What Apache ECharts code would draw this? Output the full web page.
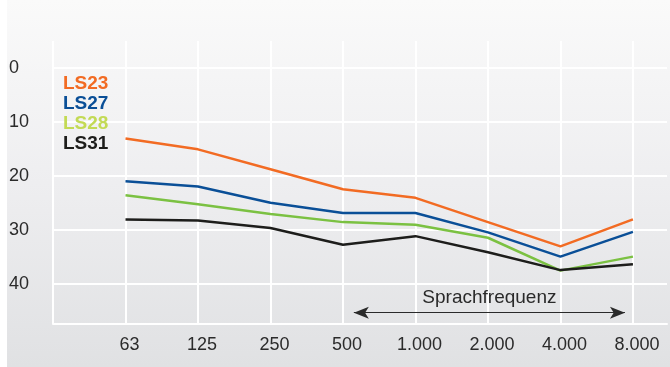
<!DOCTYPE html>
<html>
<head>
<meta charset="utf-8">
<script src="https://cdn.jsdelivr.net/npm/echarts@6/dist/echarts.min.js"></script>
<style>
    html, body { margin: 0; padding: 0; background: #fff; }
    #chart { width: 670px; height: 367px; }
</style>
</head>
<body>
<div id="chart"></div>
<script>
var myChart = echarts.init(document.getElementById('chart'));

// frequency bands (x axis)
var categories = ['63', '125', '250', '500', '1.000', '2.000', '4.000', '8.000'];
// y axis labels
var yTicks = [0, 10, 20, 30, 40];

var names = ['LS23', 'LS27', 'LS28', 'LS31'];
var ls23 = [13.1, 15.1, 18.8, 22.5, 24.1, 28.6, 33.1, 28.1];
var ls27 = [21.0, 22.0, 25.0, 26.9, 26.9, 30.5, 35.0, 30.4];
var ls28 = [23.6, 25.3, 27.1, 28.6, 29.1, 31.5, 37.6, 35.0];
var ls31 = [28.1, 28.3, 29.7, 32.8, 31.2, 34.2, 37.5, 36.4];

// speech frequency arrow: from/to in category index units, and its level
var speechRange = [3.15, 6.89];
var speechLevel = 45.4;

var lineColors = ['#f26b23', '#0a4f97', '#7bc142', '#1d1d1b'];
var legendColors = ['#f26b23', '#0a4f97', '#c3da55', '#1d1d1b'];
var font = '"Liberation Sans", Arial, sans-serif';

function toPoints(values) {
    return values.map(function (v, i) { return [i, v]; });
}

var allValues = [ls23, ls27, ls28, ls31];

var series = names.map(function (name, k) {
    return {
        name: name,
        type: 'line',
        symbol: 'none',
        lineStyle: { width: 2.5, color: lineColors[k] },
        itemStyle: { color: lineColors[k] },
        data: toPoints(allValues[k])
    };
});

series[3].markLine = {
    silent: true,
    symbol: ['arrow', 'arrow'],
    symbolSize: [9, 15],
    lineStyle: { color: '#2a2a2a', width: 1, type: 'solid' },
    label: {
        show: true,
        position: 'middle',
        formatter: 'Sprachfrequenz',
        color: '#2a2a2a',
        fontFamily: font,
        fontSize: 19,
        distance: 5
    },
    data: [[
        { coord: [speechRange[0], speechLevel] },
        { coord: [speechRange[1], speechLevel] }
    ]]
};

var option = {
    animation: false,
    backgroundColor: '#ffffff',
    graphic: [{
        type: 'rect',
        z: -10,
        silent: true,
        shape: { x: 7, y: 0, width: 663, height: 367 },
        style: {
            fill: new echarts.graphic.LinearGradient(0, 0, 0, 1, [
                { offset: 0, color: '#fafafa' },
                { offset: 0.5, color: '#eeeef0' },
                { offset: 1, color: '#e0e1e3' }
            ])
        }
    }],
    legend: {
        orient: 'vertical',
        left: 53,
        top: 69,
        itemWidth: 0,
        itemHeight: 0,
        itemGap: 0,
        icon: 'rect',
        selectedMode: false,
        textStyle: {
            fontFamily: font,
            fontSize: 19,
            fontWeight: 'bold',
            lineHeight: 20
        },
        data: names.map(function (n, k) {
            return { name: n, textStyle: { color: legendColors[k] } };
        })
    },
    grid: {
        left: 53,
        right: 3,
        top: 41,
        bottom: 43,
        containLabel: false
    },
    xAxis: {
        type: 'value',
        min: -1,
        max: 7.47,
        interval: 1,
        axisLine: { show: true, onZero: false, lineStyle: { color: '#ffffff', width: 2 } },
        axisTick: { show: false },
        splitLine: { show: true, showMaxLine: false, lineStyle: { color: '#ffffff', width: 2 } },
        axisLabel: {
            color: '#2b2b2b',
            fontFamily: font,
            fontSize: 18,
            margin: 12,
            padding: [0, 0, 0, 8],
            showMaxLabel: false,
            formatter: function (v) {
                var i = Math.round(v);
                if (Math.abs(v - i) > 1e-6 || i < 0) return '';
                return categories[i] || '';
            }
        }
    },
    yAxis: {
        type: 'value',
        inverse: true,
        min: -5,
        max: 47.5,
        axisLine: { show: false },
        axisTick: { show: false, customValues: yTicks },
        splitLine: { show: true, lineStyle: { color: '#ffffff', width: 2 } },
        axisLabel: {
            customValues: yTicks,
            align: 'left',
            margin: 44,
            padding: [3, 0, 0, 0],
            color: '#2b2b2b',
            fontFamily: font,
            fontSize: 18
        }
    },
    series: series
};

myChart.setOption(option);
</script>
</body>
</html>
